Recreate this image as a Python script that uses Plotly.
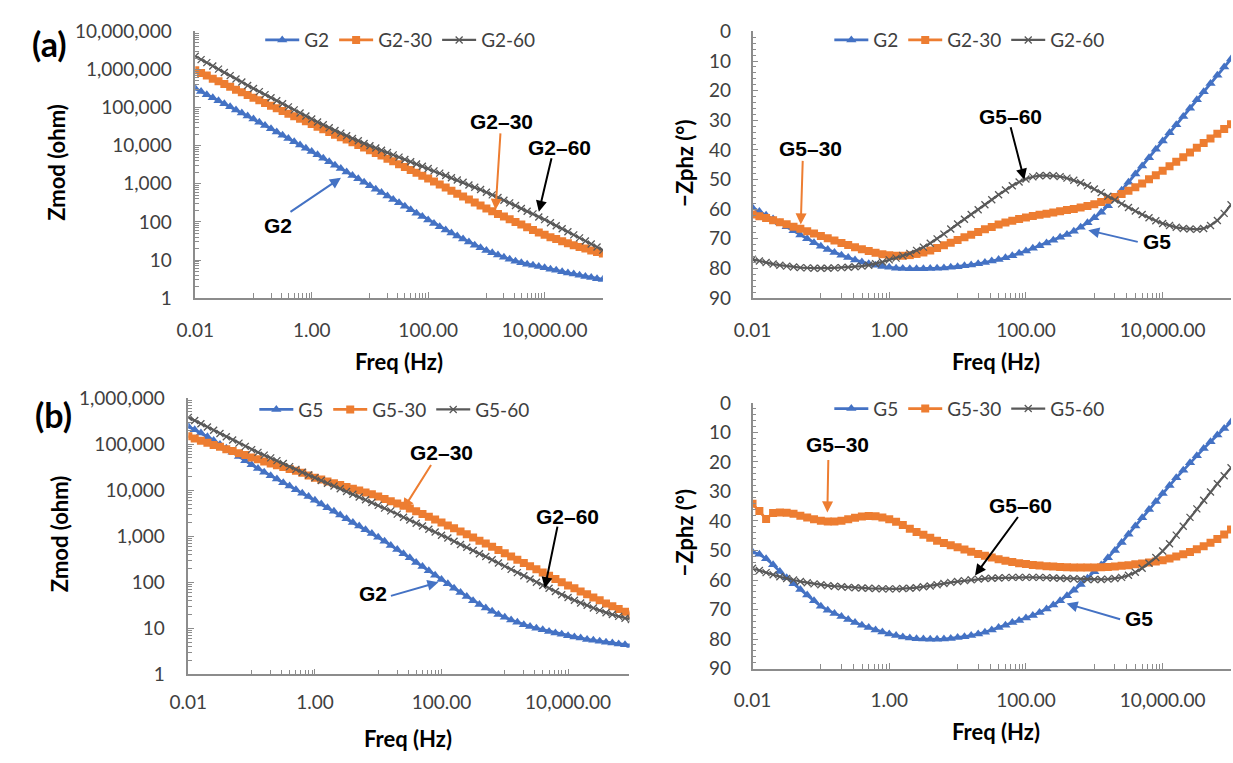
import plotly.graph_objects as go

W, H = 1233, 763

# ---------------- data ----------------
FREQ_HZ = [
    0.01, 0.0126, 0.0158, 0.02, 0.0251, 0.0316, 0.0398, 0.0501, 0.0631, 0.0794,
    0.1, 0.126, 0.158, 0.2, 0.251, 0.316, 0.398, 0.501, 0.631, 0.794,
    1, 1.26, 1.58, 2, 2.51, 3.16, 3.98, 5.01, 6.31, 7.94,
    10, 12.6, 15.8, 20, 25.1, 31.6, 39.8, 50.1, 63.1, 79.4,
    100, 126, 158, 200, 251, 316, 398, 501, 631, 794,
    1000, 1260, 1580, 2000, 2510, 3160, 3980, 5010, 6310, 7940,
    10000, 12600, 15800, 20000, 25100, 31600, 39800, 50100, 63100, 79400,
    100000]

# (a) |Z| as log10(ohm)
G2_ZMOD_LOG10 = [
    5.50, 5.42, 5.34, 5.26, 5.18, 5.10, 5.02, 4.94, 4.86, 4.78,
    4.70, 4.615, 4.53, 4.445, 4.36, 4.275, 4.19, 4.105, 4.02, 3.935,
    3.85, 3.76, 3.67, 3.58, 3.49, 3.40, 3.31, 3.22, 3.13, 3.04,
    2.95, 2.86, 2.77, 2.68, 2.59, 2.50, 2.41, 2.32, 2.23, 2.14,
    2.05, 1.96, 1.87, 1.79, 1.71, 1.63, 1.55, 1.47, 1.39, 1.32,
    1.25, 1.19, 1.13, 1.07, 1.02, 0.97, 0.93, 0.89, 0.86, 0.83,
    0.80, 0.76, 0.73, 0.69, 0.66, 0.63, 0.60, 0.57, 0.54, 0.51,
    0.49]
G2_30_ZMOD_LOG10 = [
    5.98, 5.91, 5.84, 5.76, 5.69, 5.62, 5.55, 5.47, 5.40, 5.33,
    5.26, 5.19, 5.12, 5.05, 4.98, 4.91, 4.84, 4.77, 4.71, 4.64,
    4.57, 4.50, 4.43, 4.36, 4.29, 4.22, 4.16, 4.09, 4.02, 3.95,
    3.88, 3.81, 3.74, 3.66, 3.59, 3.51, 3.44, 3.36, 3.29, 3.21,
    3.14, 3.06, 2.98, 2.90, 2.82, 2.74, 2.67, 2.59, 2.51, 2.43,
    2.35, 2.28, 2.21, 2.14, 2.07, 2.00, 1.93, 1.86, 1.79, 1.72,
    1.66, 1.60, 1.55, 1.49, 1.44, 1.39, 1.34, 1.30, 1.25, 1.21,
    1.17]
G2_60_ZMOD_LOG10 = [
    6.35, 6.26, 6.18, 6.09, 6.01, 5.92, 5.84, 5.75, 5.67, 5.58,
    5.50, 5.42, 5.34, 5.26, 5.18, 5.10, 5.02, 4.94, 4.86, 4.78,
    4.70, 4.62, 4.55, 4.47, 4.40, 4.33, 4.26, 4.19, 4.13, 4.06,
    4.00, 3.94, 3.88, 3.82, 3.76, 3.70, 3.64, 3.58, 3.52, 3.46,
    3.40, 3.34, 3.28, 3.22, 3.16, 3.10, 3.04, 2.97, 2.91, 2.85,
    2.78, 2.71, 2.64, 2.57, 2.50, 2.43, 2.35, 2.28, 2.21, 2.13,
    2.06, 1.98, 1.90, 1.82, 1.74, 1.66, 1.58, 1.50, 1.42, 1.34,
    1.26]

# (a) -phase (degrees)
G2_PHASE = [
    59.5, 60.8, 62.0, 63.3, 64.6, 65.9, 67.3, 68.7, 70.0, 71.3,
    72.5, 73.6, 74.6, 75.5, 76.3, 77.1, 77.8, 78.4, 78.9, 79.3,
    79.6, 79.9, 80.0, 80.1, 80.1, 80.1, 80.0, 79.9, 79.8, 79.6,
    79.4, 79.1, 78.8, 78.4, 78.0, 77.5, 77.0, 76.4, 75.7, 74.9,
    74.1, 73.2, 72.3, 71.4, 70.5, 69.5, 68.5, 67.4, 66.1, 64.6,
    62.9, 61.0, 58.8, 56.3, 53.6, 50.9, 48.1, 45.4, 42.6, 39.8,
    37.0, 34.2, 31.5, 28.7, 25.9, 23.1, 20.4, 17.6, 14.8, 12.0,
    9.3]
G2_30_PHASE = [
    61.8, 62.4, 63.0, 63.7, 64.4, 65.1, 65.9, 66.6, 67.4, 68.2,
    69.0, 69.8, 70.6, 71.4, 72.1, 72.8, 73.5, 74.1, 74.7, 75.2,
    75.5, 75.7, 75.7, 75.5, 75.1, 74.6, 73.9, 73.1, 72.2, 71.3,
    70.4, 69.5, 68.6, 67.7, 66.8, 66.0, 65.2, 64.5, 63.9, 63.3,
    62.8, 62.3, 61.9, 61.5, 61.1, 60.7, 60.3, 59.9, 59.4, 58.9,
    58.3, 57.6, 56.8, 55.9, 54.9, 53.8, 52.6, 51.3, 49.9, 48.5,
    47.0, 45.5, 44.0, 42.5, 40.9, 39.3, 37.7, 36.1, 34.5, 32.9,
    31.3]
G2_60_PHASE = [
    76.9, 77.5, 78.0, 78.5, 78.9, 79.2, 79.5, 79.7, 79.8, 79.9,
    79.9, 79.9, 79.8, 79.7, 79.6, 79.4, 79.2, 78.9, 78.4, 77.8,
    77.1, 76.5, 75.7, 74.9, 73.9, 72.8, 71.5, 70.0, 68.4, 66.7,
    65.0, 63.4, 61.8, 60.2, 58.5, 56.8, 55.1, 53.5, 52.1, 50.8,
    49.8, 49.1, 48.7, 48.6, 48.7, 49.0, 49.5, 50.2, 51.1, 52.1,
    53.2, 54.4, 55.6, 56.9, 58.2, 59.4, 60.6, 61.8, 62.9, 63.9,
    64.8, 65.5, 66.1, 66.5, 66.7, 66.8, 66.5, 65.5, 63.8, 61.4,
    58.5]

# (b) |Z| as log10(ohm)
G5_ZMOD_LOG10 = [
    5.38, 5.31, 5.24, 5.16, 5.08, 4.99, 4.91, 4.82, 4.73, 4.64,
    4.55, 4.47, 4.39, 4.31, 4.24, 4.16, 4.09, 4.01, 3.93, 3.86,
    3.78, 3.70, 3.62, 3.54, 3.46, 3.38, 3.30, 3.22, 3.14, 3.06,
    2.98, 2.89, 2.80, 2.71, 2.62, 2.53, 2.43, 2.34, 2.25, 2.15,
    2.06, 1.97, 1.87, 1.78, 1.69, 1.60, 1.52, 1.44, 1.37, 1.30,
    1.24, 1.18, 1.13, 1.08, 1.04, 1.00, 0.97, 0.93, 0.90, 0.87,
    0.84, 0.81, 0.79, 0.76, 0.74, 0.72, 0.70, 0.68, 0.66, 0.645,
    0.63]
G5_30_ZMOD_LOG10 = [
    5.17, 5.12, 5.07, 5.03, 4.98, 4.94, 4.89, 4.85, 4.80, 4.76,
    4.71, 4.67, 4.62, 4.58, 4.54, 4.50, 4.46, 4.42, 4.38, 4.32,
    4.27, 4.23, 4.19, 4.15, 4.11, 4.07, 4.03, 3.99, 3.95, 3.91,
    3.86, 3.81, 3.76, 3.71, 3.66, 3.60, 3.54, 3.48, 3.42, 3.36,
    3.30, 3.23, 3.17, 3.10, 3.04, 2.97, 2.90, 2.84, 2.77, 2.70,
    2.63, 2.56, 2.49, 2.42, 2.35, 2.28, 2.21, 2.14, 2.07, 2.00,
    1.93, 1.87, 1.80, 1.74, 1.67, 1.61, 1.54, 1.48, 1.42, 1.36,
    1.30]
G5_60_ZMOD_LOG10 = [
    5.58, 5.51, 5.44, 5.37, 5.30, 5.23, 5.16, 5.09, 5.02, 4.95,
    4.88, 4.82, 4.76, 4.70, 4.64, 4.58, 4.51, 4.45, 4.39, 4.33,
    4.27, 4.21, 4.15, 4.09, 4.03, 3.97, 3.91, 3.85, 3.79, 3.73,
    3.67, 3.61, 3.55, 3.48, 3.41, 3.35, 3.28, 3.22, 3.15, 3.09,
    3.02, 2.96, 2.89, 2.82, 2.76, 2.69, 2.62, 2.56, 2.49, 2.42,
    2.35, 2.28, 2.21, 2.14, 2.07, 2.00, 1.93, 1.87, 1.80, 1.73,
    1.67, 1.61, 1.55, 1.50, 1.44, 1.39, 1.34, 1.30, 1.26, 1.22,
    1.19]

# (b) -phase (degrees)
G5_PHASE = [
    50.5, 51.3, 52.8, 54.8, 57.1, 59.2, 61.3, 63.2, 65.1, 67.0,
    68.9, 70.2, 71.3, 72.4, 73.4, 74.4, 75.3, 76.1, 76.9, 77.6,
    78.3, 78.8, 79.3, 79.6, 79.9, 80.0, 80.1, 80.1, 80.0, 79.8,
    79.5, 79.2, 78.8, 78.3, 77.7, 76.9, 76.1, 75.3, 74.4, 73.7,
    72.9, 72.0, 71.0, 69.8, 68.5, 67.0, 65.3, 63.5, 61.5, 59.4,
    57.2, 54.9, 52.5, 50.0, 47.3, 44.5, 41.7, 38.9, 36.1, 33.4,
    30.7, 28.0, 25.4, 22.8, 20.3, 17.9, 15.5, 13.2, 10.9, 8.7,
    6.5]
G5_30_PHASE = [
    34.2, 36.6, 39.3, 37.3, 37.1, 37.2, 37.6, 38.2, 38.8, 39.4,
    39.9, 40.2, 40.2, 39.9, 39.4, 38.9, 38.5, 38.3, 38.4, 38.8,
    39.4, 40.3, 41.4, 42.6, 43.7, 44.7, 45.7, 46.7, 47.5, 48.2,
    48.9, 49.7, 50.4, 51.2, 51.8, 52.4, 53.0, 53.5, 53.9, 54.3,
    54.6, 54.9, 55.1, 55.3, 55.4, 55.6, 55.7, 55.8, 55.8, 55.8,
    55.8, 55.7, 55.6, 55.4, 55.2, 55.0, 54.7, 54.4, 54.1, 53.7,
    53.3, 52.7, 52.0, 51.3, 50.5, 49.6, 48.6, 47.4, 46.1, 44.6,
    42.9]
G5_60_PHASE = [
    56.0, 56.8, 57.5, 58.2, 58.9, 59.5, 60.0, 60.5, 60.9, 61.3,
    61.6, 61.9, 62.1, 62.3, 62.5, 62.6, 62.7, 62.8, 62.9, 63.0,
    63.0, 63.0, 62.9, 62.8, 62.6, 62.3, 62.0, 61.6, 61.2, 60.8,
    60.5, 60.2, 59.9, 59.7, 59.5, 59.4, 59.3, 59.2, 59.1, 59.1,
    59.1, 59.1, 59.1, 59.2, 59.3, 59.4, 59.5, 59.6, 59.7, 59.8,
    59.8, 59.8, 59.7, 59.5, 59.1, 58.4, 57.4, 56.0, 54.3, 52.4,
    50.2, 47.7, 44.8, 41.8, 38.8, 35.9, 33.0, 30.2, 27.4, 24.7,
    22.0]

NAMES_A = ["G2", "G2-30", "G2-60"]
NAMES_B = ["G5", "G5-30", "G5-60"]

X_TICK_VALS = [0.01, 1, 100, 10000]
X_TICK_TEXT = ["0.01", "1.00", "100.00", "10,000.00"]
ZA_TICK_VALS = [1, 10, 100, 1000, 10000, 100000, 1000000, 10000000]
ZA_TICK_TEXT = ["1", "10", "100", "1,000", "10,000", "100,000", "1,000,000", "10,000,000"]
ZB_TICK_VALS = ZA_TICK_VALS[:7]
ZB_TICK_TEXT = ZA_TICK_TEXT[:7]

# ---------------- styling ----------------
COLORS = ["#4472C4", "#ED7D31", "#595959"]
SYMBOLS = ["triangle-up", "square", "x-thin"]
MSIZES = [9, 8, 7]
LWIDTHS = [2.75, 2.75, 2.25]
TXT = "#404040"
AXC = "#8c8c8c"
FONT = "Lato"


def px(x, y):
    return x / W, 1 - y / H


def zmod(vals):
    return [10 ** v for v in vals]


fig = go.Figure()

panels = [
    ("x", "y", "legend", NAMES_A, [zmod(G2_ZMOD_LOG10), zmod(G2_30_ZMOD_LOG10), zmod(G2_60_ZMOD_LOG10)]),
    ("x2", "y2", "legend2", NAMES_A, [G2_PHASE, G2_30_PHASE, G2_60_PHASE]),
    ("x3", "y3", "legend3", NAMES_B, [zmod(G5_ZMOD_LOG10), zmod(G5_30_ZMOD_LOG10), zmod(G5_60_ZMOD_LOG10)]),
    ("x4", "y4", "legend4", NAMES_B, [G5_PHASE, G5_30_PHASE, G5_60_PHASE]),
]

for xa, ya, lg, names, series in panels:
    for i, (nm, ys) in enumerate(zip(names, series)):
        mk = dict(symbol=SYMBOLS[i], size=MSIZES[i], color=COLORS[i],
                  line=dict(color=COLORS[i], width=1.3 if i == 2 else 0))
        fig.add_trace(go.Scatter(
            x=FREQ_HZ, y=ys, name=nm, mode="lines+markers",
            xaxis=xa, yaxis=ya, legend=lg,
            line=dict(color=COLORS[i], width=LWIDTHS[i]),
            marker=mk, showlegend=True))

# minor ticks
x_minor = []
for m in X_TICK_VALS:
    for k in range(1, 10):
        x_minor.append(m * 10 * k)
x_minor.append(100000)
y_minor = []
for e in range(0, 7):
    for k in range(2, 10):
        y_minor.append(k * 10 ** e)


def xaxis_cfg(dom, rng, standoff):
    return dict(type="log", domain=dom, range=rng, showgrid=False, zeroline=False,
                showline=True, linecolor=AXC, linewidth=1.5,
                tickmode="array", tickvals=X_TICK_VALS, ticktext=X_TICK_TEXT,
                ticks="inside", ticklen=6, tickcolor=AXC, tickwidth=1,
                ticklabelstandoff=standoff,
                minor=dict(tickmode="array", tickvals=x_minor, ticks="inside",
                           ticklen=5, tickcolor=AXC, tickwidth=1, showgrid=False),
                tickfont=dict(family=FONT, size=19, color=TXT))


def ylog_cfg(dom, rng, vals, text, anchor, standoff):
    return dict(type="log", domain=dom, range=rng, showgrid=False, zeroline=False,
                anchor=anchor, showline=True, linecolor=AXC, linewidth=1.5,
                tickmode="array", tickvals=vals, ticktext=text,
                ticks="inside", ticklen=6, tickcolor=AXC, tickwidth=1,
                ticklabelstandoff=standoff,
                minor=dict(tickmode="array", tickvals=y_minor, ticks="inside",
                           ticklen=4, tickcolor=AXC, tickwidth=1, showgrid=False),
                tickfont=dict(family=FONT, size=19, color=TXT))


def yph_cfg(dom, anchor, standoff):
    return dict(domain=dom, range=[90, 0], showgrid=False, zeroline=False,
                anchor=anchor, showline=True, linecolor=AXC, linewidth=1.5,
                tick0=0, dtick=10, ticks="inside", ticklen=6, tickcolor=AXC, tickwidth=1,
                ticklabelstandoff=standoff,
                minor=dict(dtick=2, ticks="inside", ticklen=4, tickcolor=AXC,
                           tickwidth=1, showgrid=False),
                tickfont=dict(family=FONT, size=19, color=TXT))


def dom_x(a, b):
    return [a / W, b / W]


def dom_y(top, bottom):
    return [1 - bottom / H, 1 - top / H]


def legend_cfg(x, y):
    return dict(orientation="h", x=x / W, y=1 - y / H, xanchor="left", yanchor="middle",
                font=dict(family=FONT, size=19, color=TXT), bgcolor="rgba(0,0,0,0)",
                itemwidth=34, tracegroupgap=0)


fig.update_layout(
    width=W, height=H, margin=dict(l=0, r=0, t=0, b=0),
    paper_bgcolor="white", plot_bgcolor="white",
    xaxis=xaxis_cfg(dom_x(179, 593), [-2, 5], 14) | dict(anchor="y"),
    yaxis=ylog_cfg(dom_y(20, 295), [0, 7], ZA_TICK_VALS, ZA_TICK_TEXT, "x", 18),
    xaxis2=xaxis_cfg(dom_x(745, 1231), [-2, 5], 14) | dict(anchor="y2"),
    yaxis2=yph_cfg(dom_y(20, 295), "x2", 16),
    xaxis3=xaxis_cfg(dom_x(172, 620), [-2, 4.97], 10) | dict(anchor="y3"),
    yaxis3=ylog_cfg(dom_y(398, 683), [0, 6], ZB_TICK_VALS, ZB_TICK_TEXT, "x3", 18),
    xaxis4=xaxis_cfg(dom_x(745, 1231), [-2, 5], 14) | dict(anchor="y4"),
    yaxis4=yph_cfg(dom_y(403, 677), "x4", 16),
    legend=legend_cfg(245, 29),
    legend2=legend_cfg(823, 29),
    legend3=legend_cfg(239, 410),
    legend4=legend_cfg(823, 409),
    showlegend=True,
)

ann = []


def text(x, y, s, size=21, family="Liberation Sans", angle=0, color="#000000"):
    xx, yy = px(x, y)
    ann.append(dict(x=xx, y=yy, xref="paper", yref="paper", text=s, showarrow=False,
                    xanchor="center", yanchor="middle", textangle=angle,
                    font=dict(family=family, size=size, color=color)))


def arrow(tail, tip, color):
    xx, yy = px(*tip)
    ann.append(dict(x=xx, y=yy, xref="paper", yref="paper", text="", showarrow=True,
                    axref="pixel", ayref="pixel", ax=tail[0] - tip[0], ay=tail[1] - tip[1],
                    arrowhead=2, arrowsize=1.1, arrowwidth=2, arrowcolor=color))


# panel labels
text(31, 32, "<b>(a)</b>", size=34, family="Lato")
text(35, 415, "<b>(b)</b>", size=34, family="Lato")

# axis titles
text(38, 155, "<b>Zmod (ohm)</b>", size=22, family="Lato", angle=-90)
text(41, 538, "<b>Zmod (ohm)</b>", size=22, family="Lato", angle=-90)
text(676, 156, "<b>\u2212Zphz (\u00b0)</b>", size=22, family="Lato", angle=-90)
text(676, 537, "<b>\u2212Zphz (\u00b0)</b>", size=22, family="Lato", angle=-90)
text(386, 360, "<b>Freq (Hz)</b>", size=22, family="Lato")
text(992, 360, "<b>Freq (Hz)</b>", size=22, family="Lato")
text(395, 749, "<b>Freq (Hz)</b>", size=22, family="Lato")
text(992, 742, "<b>Freq (Hz)</b>", size=22, family="Lato")

# callouts (a) left
text(263, 220, "<b>G2</b>")
arrow((275, 206), (327, 171), COLORS[0])
text(490, 113, "<b>G2\u201330</b>")
arrow((489, 126), (484, 204), COLORS[1])
text(549, 140, "<b>G2\u201360</b>")
arrow((541, 151), (528, 206), "#000000")
# (a) right
text(804, 141, "<b>G5\u201330</b>")
arrow((796, 154), (794, 219), COLORS[1])
text(1007, 108, "<b>G5\u201360</b>")
arrow((1007, 119), (1021, 173), "#000000")
text(1156, 237, "<b>G5</b>")
arrow((1137, 237), (1086, 225), COLORS[0])
# (b) left
text(429, 454, "<b>G2\u201330</b>")
arrow((419, 467), (390, 513), COLORS[1])
text(557, 520, "<b>G2\u201360</b>")
arrow((547, 531), (534, 594), "#000000")
text(360, 600, "<b>G2</b>")
arrow((377, 602), (426, 588), COLORS[0])
# (b) right
text(831, 446, "<b>G5\u201330</b>")
arrow((822, 462), (821, 516), COLORS[1])
text(1017, 509, "<b>G5\u201360</b>")
arrow((1015, 521), (971, 581), "#000000")
text(1138, 625, "<b>G5</b>")
arrow((1119, 626), (1064, 610), COLORS[0])

fig.update_layout(annotations=ann)

fig.write_html("out.html")
